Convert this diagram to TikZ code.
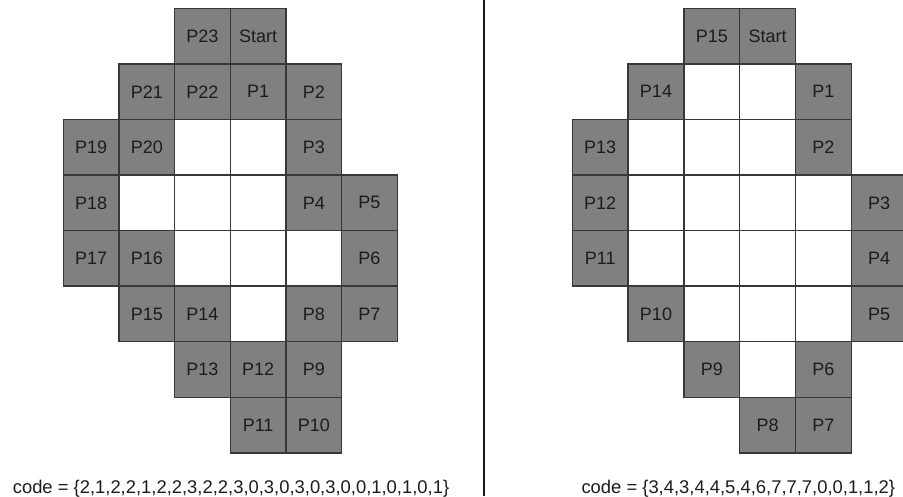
\documentclass[tikz,border=0pt]{standalone}
\usepackage{fontspec}
\setmainfont{Liberation Sans}
\definecolor{cellgray}{HTML}{808080}
\definecolor{edgegray}{HTML}{383838}
\definecolor{txt}{HTML}{1C1C1C}
\begin{document}
\begin{tikzpicture}[x=1pt,y=-1pt,
  cellbox/.style={draw=edgegray, line width=1.4pt, minimum width=55.7pt, minimum height=55.55pt, inner sep=0pt, text=txt, font=\fontsize{18}{21}\selectfont},
  pix/.style={cellbox, fill=cellgray},
  hole/.style={cellbox, fill=white},
  codetext/.style={anchor=base, inner sep=0pt, text=txt, font=\fontsize{18.4}{21}\selectfont}]
\useasboundingbox (0,0) rectangle (903,496);
% ---------- left panel ----------
\begin{scope}[shift={(63.3pt,-8.4pt)}, x=55.67pt, y=-55.55pt]
  \node[hole] (Lw1) at (2.5,2.5) {};
  \node[hole] (Lw2) at (3.5,2.5) {};
  \node[hole] (Lw3) at (1.5,3.5) {};
  \node[hole] (Lw4) at (2.5,3.5) {};
  \node[hole] (Lw5) at (3.5,3.5) {};
  \node[hole] (Lw6) at (2.5,4.5) {};
  \node[hole] (Lw7) at (3.5,4.5) {};
  \node[hole] (Lw8) at (4.5,4.5) {};
  \node[hole] (Lw9) at (3.5,5.5) {};
  \node[pix] (LP23) at (2.5,0.5) {P23};
  \node[pix] (LStart) at (3.5,0.5) {Start};
  \node[pix] (LP21) at (1.5,1.5) {P21};
  \node[pix] (LP22) at (2.5,1.5) {P22};
  \node[pix] (LP1) at (3.5,1.5) {P1};
  \node[pix] (LP2) at (4.5,1.5) {P2};
  \node[pix] (LP19) at (0.5,2.5) {P19};
  \node[pix] (LP20) at (1.5,2.5) {P20};
  \node[pix] (LP3) at (4.5,2.5) {P3};
  \node[pix] (LP18) at (0.5,3.5) {P18};
  \node[pix] (LP4) at (4.5,3.5) {P4};
  \node[pix] (LP5) at (5.5,3.5) {P5};
  \node[pix] (LP17) at (0.5,4.5) {P17};
  \node[pix] (LP16) at (1.5,4.5) {P16};
  \node[pix] (LP6) at (5.5,4.5) {P6};
  \node[pix] (LP15) at (1.5,5.5) {P15};
  \node[pix] (LP14) at (2.5,5.5) {P14};
  \node[pix] (LP8) at (4.5,5.5) {P8};
  \node[pix] (LP7) at (5.5,5.5) {P7};
  \node[pix] (LP13) at (2.5,6.5) {P13};
  \node[pix] (LP12) at (3.5,6.5) {P12};
  \node[pix] (LP9) at (4.5,6.5) {P9};
  \node[pix] (LP11) at (3.5,7.5) {P11};
  \node[pix] (LP10) at (4.5,7.5) {P10};
\end{scope}
\node[codetext] (Lcode) at (231,493) {code = \{2,1,2,2,1,2,2,3,2,2,3,0,3,0,3,0,3,0,0,1,0,1,0,1\}};
% ---------- divider ----------
\coordinate (dtop) at (483.7,0);
\coordinate (dbot) at (483.7,496);
\draw[line width=1.6pt, black!90] (dtop) -- (dbot);
% ---------- right panel ----------
\begin{scope}[shift={(572.3pt,-8.4pt)}, x=55.8pt, y=-55.55pt]
  \node[hole] (Rw1) at (2.5,1.5) {};
  \node[hole] (Rw2) at (3.5,1.5) {};
  \node[hole] (Rw3) at (1.5,2.5) {};
  \node[hole] (Rw4) at (2.5,2.5) {};
  \node[hole] (Rw5) at (3.5,2.5) {};
  \node[hole] (Rw6) at (1.5,3.5) {};
  \node[hole] (Rw7) at (2.5,3.5) {};
  \node[hole] (Rw8) at (3.5,3.5) {};
  \node[hole] (Rw9) at (4.5,3.5) {};
  \node[hole] (Rw10) at (1.5,4.5) {};
  \node[hole] (Rw11) at (2.5,4.5) {};
  \node[hole] (Rw12) at (3.5,4.5) {};
  \node[hole] (Rw13) at (4.5,4.5) {};
  \node[hole] (Rw14) at (2.5,5.5) {};
  \node[hole] (Rw15) at (3.5,5.5) {};
  \node[hole] (Rw16) at (4.5,5.5) {};
  \node[hole] (Rw17) at (3.5,6.5) {};
  \node[pix] (RP15) at (2.5,0.5) {P15};
  \node[pix] (RStart) at (3.5,0.5) {Start};
  \node[pix] (RP14) at (1.5,1.5) {P14};
  \node[pix] (RP1) at (4.5,1.5) {P1};
  \node[pix] (RP13) at (0.5,2.5) {P13};
  \node[pix] (RP2) at (4.5,2.5) {P2};
  \node[pix] (RP12) at (0.5,3.5) {P12};
  \node[pix] (RP3) at (5.5,3.5) {P3};
  \node[pix] (RP11) at (0.5,4.5) {P11};
  \node[pix] (RP4) at (5.5,4.5) {P4};
  \node[pix] (RP10) at (1.5,5.5) {P10};
  \node[pix] (RP5) at (5.5,5.5) {P5};
  \node[pix] (RP9) at (2.5,6.5) {P9};
  \node[pix] (RP6) at (4.5,6.5) {P6};
  \node[pix] (RP8) at (3.5,7.5) {P8};
  \node[pix] (RP7) at (4.5,7.5) {P7};
\end{scope}
\node[codetext] (Rcode) at (738.3,493) {code = \{3,4,3,4,4,5,4,6,7,7,7,0,0,1,1,2\}};
\end{tikzpicture}
\end{document}
